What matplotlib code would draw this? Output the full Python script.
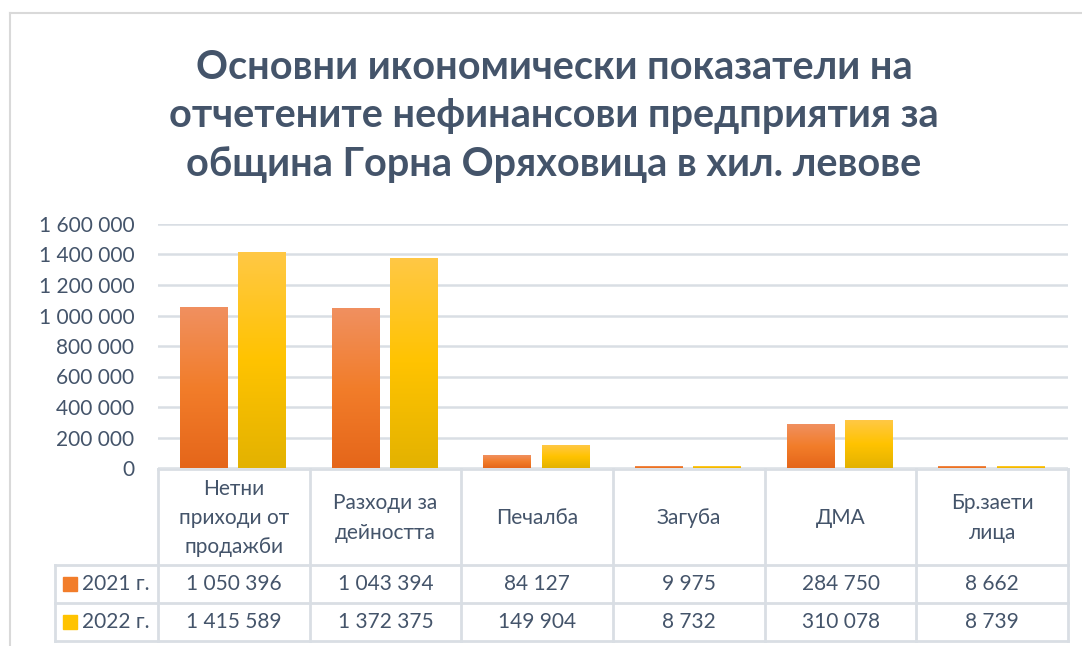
import matplotlib.pyplot as plt
import numpy as np
from matplotlib.colors import LinearSegmentedColormap
from matplotlib.transforms import blended_transform_factory
from matplotlib.patches import Rectangle

plt.rcParams['font.family'] = ['Lato', 'DejaVu Sans']

title = "Основни икономически показатели на\nотчетените нефинансови предприятия за\nобщина Горна Оряховица в хил. левове"
categories = ["Нетни\nприходи от\nпродажби", "Разходи за\nдейността", "Печалба",
              "Загуба", "ДМА", "Бр.заети\nлица"]
series_names = ["2021 г.", "2022 г."]
values_2021 = [1050396, 1043394, 84127, 9975, 284750, 8662]
values_2022 = [1415589, 1372375, 149904, 8732, 310078, 8739]
yticks = [0, 200000, 400000, 600000, 800000, 1000000, 1200000, 1400000, 1600000]

text_col = "#44546A"
grid_col = "#D9DEE4"
cmap_2021 = LinearSegmentedColormap.from_list("o", ["#F09060", "#F27D2A", "#E5661A"])
cmap_2022 = LinearSegmentedColormap.from_list("y", ["#FFC845", "#FFC300", "#E3B200"])


def fmt(v):
    return f"{v:,}".replace(",", " ")


W, H = 1082, 646
fig = plt.figure(figsize=(W / 100, H / 100), dpi=100)

# outer frame
fig.add_artist(plt.Line2D([10 / W, 10 / W], [0, 1 - 13 / H], transform=fig.transFigure,
                          color="#D9D9D9", lw=1.5))
fig.add_artist(plt.Line2D([10 / W, 1], [1 - 13 / H, 1 - 13 / H], transform=fig.transFigure,
                          color="#D9D9D9", lw=1.5))

fig.text(554 / W, 1 - 116 / H, title, ha="center", va="center", fontsize=28.5,
         fontweight="bold", color=text_col, linespacing=1.38)

ax = fig.add_axes([158 / W, 1 - 468 / H, 910 / W, 244 / H])
x = np.arange(len(categories))
grad = np.linspace(0, 1, 256).reshape(-1, 1)
bw = 48 / 152
for vals, cm, off in [(values_2021, cmap_2021, -30 / 152), (values_2022, cmap_2022, 28.5 / 152)]:
    for xi, v in zip(x, vals):
        x0 = xi + off - bw / 2
        ax.imshow(grad, cmap=cm, aspect="auto", extent=[x0, x0 + bw, 0, v],
                  origin="upper", zorder=2, interpolation="bilinear")

ax.set_xlim(-0.5, len(categories) - 0.5)
ax.set_ylim(0, 1600000)
ax.set_yticks(yticks)
ax.set_yticklabels([fmt(t) for t in yticks])
ax.set_xticks([])
ax.tick_params(axis="y", length=0, labelsize=15, labelcolor=text_col, pad=17)
ax.grid(axis="y", color=grid_col, lw=1.8, zorder=0)
ax.set_axisbelow(True)
for s in ax.spines.values():
    s.set_visible(False)

# data table under the chart
tr = blended_transform_factory(ax.transData, fig.transFigure)
fy = lambda p: 1 - p / H
x_left = -0.5 - 103 / 152
x_right = len(categories) - 0.5
lkw = dict(transform=tr, color=grid_col, lw=2, clip_on=False)
ax.plot([-0.5, x_right], [fy(469), fy(469)], **lkw)
for yy in [565, 603, 641]:
    ax.plot([x_left, x_right], [fy(yy), fy(yy)], **lkw)
for xx in np.arange(-0.5, len(categories) + 0.5, 1.0):
    ax.plot([xx, xx], [fy(469), fy(641)], **lkw)
ax.plot([x_left, x_left], [fy(565), fy(641)], **lkw)

for xi, c in zip(x, categories):
    ax.text(xi, fy(518), c, transform=tr, ha="center", va="center", fontsize=15,
            color=text_col, linespacing=1.58)

rows = [(series_names[0], values_2021, cmap_2021, 584), (series_names[1], values_2022, cmap_2022, 622)]
for name, vals, cm, yc in rows:
    for xi, v in zip(x, vals):
        ax.text(xi, fy(yc), fmt(v), transform=tr, ha="center", va="center",
                fontsize=15, color=text_col)
    sw = Rectangle((x_left + 8 / 152, fy(yc + 7)), 14 / 152, 14 / H, transform=tr,
                   color=cm(0.5), clip_on=False)
    ax.add_patch(sw)
    ax.text(x_left + 27 / 152, fy(yc), name, transform=tr, ha="left", va="center",
            fontsize=15, color=text_col)

fig.savefig("out.png", dpi=100)
